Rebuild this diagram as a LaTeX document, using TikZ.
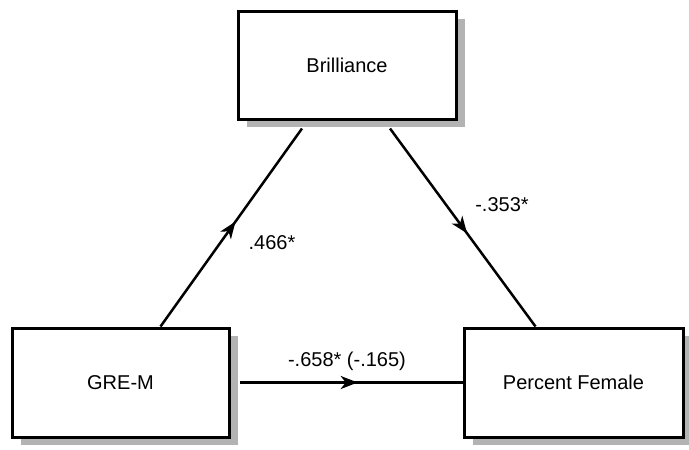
\documentclass[tikz,border=0pt]{standalone}
\usepackage{fontspec}
\setmainfont{Liberation Sans}
\usetikzlibrary{arrows.meta,shadows,calc,decorations.markings}
\definecolor{shadowgray}{HTML}{B3B3B3}
\tikzset{
  box/.style={draw=black, line width=3pt, fill=white, minimum width=217pt, minimum height=108pt,
    inner sep=0pt, font=\fontsize{20}{24}\selectfont,
    drop shadow={shadow xshift=9pt, shadow yshift=-8pt, fill=shadowgray, opacity=1}},
  conn/.style={line width=2.5pt, postaction={decorate}, decoration={markings,
    mark=at position 0.53 with {\arrow{Stealth[length=17pt,width=13pt,inset=5pt]}}}},
  lbl/.style={font=\fontsize{20}{24}\selectfont, inner sep=0pt}
}
\begin{document}
\begin{tikzpicture}[x=1pt,y=-1pt]
\useasboundingbox (0,0) rectangle (689,450);
\node[box, minimum width=218pt] (bril) at (347,65) {Brilliance};
\node[box, minimum height=109pt] (gre) at (120.5,382.5) {GRE-M};
\node[box, minimum width=219pt, minimum height=109pt] (pf) at (573.5,382.5) {Percent Female};
\draw[conn] ([xshift=40pt]gre.north) -- ($(bril.south)+(-45,8)$);
\draw[conn] ($(bril.south)+(43,8)$) -- ([xshift=-38pt]pf.north);
\draw[conn] ($(gre.east)+(9,0)$) -- (pf.west);
\node[lbl] (l1) at (272,243) {.466*};
\node[lbl] (l2) at (502,205) {-.353*};
\node[lbl] (l3) at (347,361) {-.658* (-.165)};
\end{tikzpicture}
\end{document}
